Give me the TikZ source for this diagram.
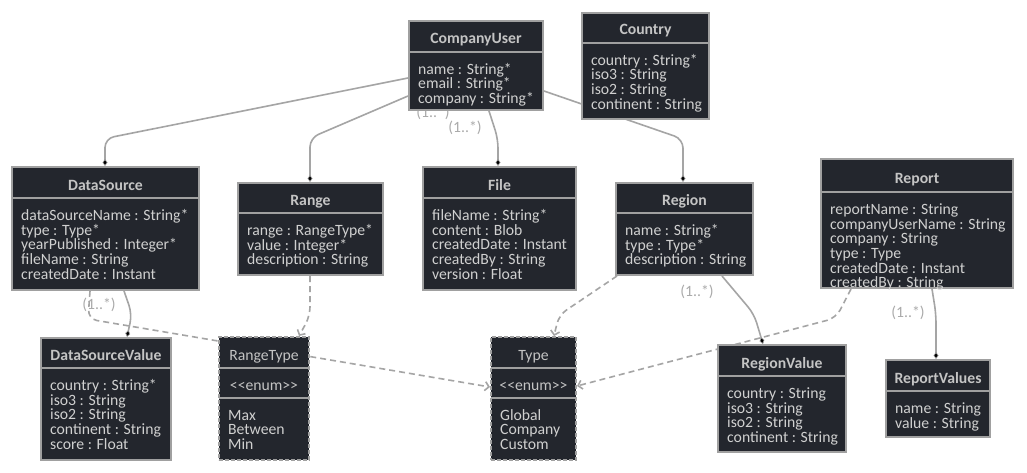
\documentclass[tikz,border=0pt]{standalone}
\usepackage{fontspec}
\setmainfont{Carlito}
\usetikzlibrary{arrows.meta,calc}
\pgfdeclarelayer{bottom}
\pgfdeclarelayer{wires}
\pgfsetlayers{bottom,wires,main}
\definecolor{boxfill}{RGB}{35,38,45}
\definecolor{boxline}{RGB}{160,160,160}
\definecolor{titlecol}{RGB}{196,196,196}
\definecolor{bodycol}{RGB}{208,208,208}
\definecolor{wirecol}{RGB}{165,165,165}
\definecolor{labelcol}{RGB}{170,170,170}
\newcommand\attr[1]{\hbox{#1}}
\newcommand\basefont{\fontsize{15.7}{14.7}\selectfont}
\newcommand\umlclass[8]{%
  \pgfmathsetmacro\cw{#4-#2}\pgfmathsetmacro\chh{#6-#3}%
  \pgfmathsetmacro\cx{(#2+#4)/2}\pgfmathsetmacro\cy{-(#3+#6)/2}%
  \node[classbox, minimum width=\cw pt, minimum height=\chh pt] (#1) at (\cx pt,\cy pt) {};
  \draw[divline] (#2pt,-#5pt) -- (#4pt,-#5pt);
  \node[titletext] at (\cx pt,{-(#5-8)*1pt}) {#7};
  \node[bodytext] at ({(#2+9)*1pt},{-(#5+22.3)*1pt}) {\vtop{\baselineskip=14.7pt\lineskiplimit=-100pt #8}};
}
\newcommand\umlenum[9]{%
  \pgfmathsetmacro\cw{#4-#2}\pgfmathsetmacro\chh{#7-#3}%
  \pgfmathsetmacro\cx{(#2+#4)/2}\pgfmathsetmacro\cy{-(#3+#7)/2}%
  \node[enumbox, minimum width=\cw pt, minimum height=\chh pt] (#1) at (\cx pt,\cy pt) {};
  \draw[divline] (#2pt,-#5pt) -- (#4pt,-#5pt);
  \draw[divline] (#2pt,-#6pt) -- (#4pt,-#6pt);
  \node[enumtitle] at (\cx pt,{-(#5-8)*1pt}) {#8};
  \node[enumtitle] at (\cx pt,{-(#6-7.5)*1pt}) {\mbox{<}\mbox{<}enum\mbox{>}\mbox{>}};
  \node[bodytext] at ({(#2+9)*1pt},{-(#6+22)*1pt}) {\vtop{\baselineskip=14.7pt\lineskiplimit=-100pt #9}};
}
\tikzset{
  classbox/.style={rectangle, draw=boxline, fill=boxfill, line width=2pt, inner sep=0pt},
  enumbox/.style={classbox, dash pattern=on 4pt off 2pt},
  divline/.style={draw=boxline, line width=2pt},
  titletext/.style={anchor=base, inner sep=0pt, text=titlecol, font=\basefont\bfseries},
  enumtitle/.style={anchor=base, inner sep=0pt, text=titlecol, font=\basefont},
  bodytext/.style={anchor=base west, inner sep=0pt, text=bodycol, font=\basefont},
  wire/.style={draw=wirecol, line width=1.6pt, rounded corners=9pt},
  comp/.style={wire, -{Diamond[length=7pt,width=5pt,fill=black,line width=0.6pt]}},
  dep/.style={wire, dash pattern=on 6pt off 4pt, -{Straight Barb[length=4pt,width=9pt,line width=1.6pt]}},
  mult/.style={inner sep=0pt, text=labelcol, font=\basefont},
}
\begin{document}
\begin{tikzpicture}[font=\basefont]
\useasboundingbox (0,0) rectangle (1027pt,-473pt);
\begin{pgfonlayer}{bottom}
\fill[white] (0,0) rectangle (1027pt,-473pt);
\end{pgfonlayer}

\umlclass{cu}{409}{21}{543}{52}{110}{CompanyUser}{\attr{name : String*}\attr{email : String*}\attr{company : String*}}
\umlclass{country}{582}{13}{709}{43}{119}{Country}{\attr{country : String*}\attr{iso3 : String}\attr{iso2 : String}\attr{continent : String}}
\umlclass{ds}{12}{167}{199}{198}{290}{DataSource}{\attr{dataSourceName : String*}\attr{type : Type*}\attr{yearPublished : Integer*}\attr{fileName : String}\attr{createdDate : Instant}}
\umlclass{range}{238}{183}{383}{213}{275}{Range}{\attr{range : RangeType*}\attr{value : Integer*}\attr{description : String}}
\umlclass{file}{423}{167}{576}{198}{290}{File}{\attr{fileName : String*}\attr{content : Blob}\attr{createdDate : Instant}\attr{createdBy : String}\attr{version : Float}}
\umlclass{region}{616}{183}{753}{213}{275}{Region}{\attr{name : String*}\attr{type : Type*}\attr{description : String}}
\umlclass{report}{821}{159}{1013}{192}{288}{Report}{\attr{reportName : String}\attr{companyUserName : String}\attr{company : String}\attr{type : Type}\attr{createdDate : Instant}\attr{createdBy : String}}
\umlclass{dsv}{41}{338}{171}{368}{460}{DataSourceValue}{\attr{country : String*}\attr{iso3 : String}\attr{iso2 : String}\attr{continent : String}\attr{score : Float}}
\umlenum{rangetype}{219}{337}{309}{368}{398}{460}{RangeType}{\attr{Max}\attr{Between}\attr{Min}}
\umlenum{type}{491}{337}{576}{368}{398}{460}{Type}{\attr{Global}\attr{Company}\attr{Custom}}
\umlclass{regionvalue}{718}{345}{846}{376}{452}{RegionValue}{\attr{country : String}\attr{iso3 : String}\attr{iso2 : String}\attr{continent : String}}
\umlclass{reportvalues}{886}{360}{990}{391}{437}{ReportValues}{\attr{name : String}\attr{value : String}}

\begin{pgfonlayer}{wires}
\node[mult] (m1) at (433pt,-112.5pt) {(1..*)};
\node[mult] (m2) at (465pt,-128pt) {(1..*)};
\node[mult] (m3) at (99pt,-305pt) {(1..*)};
\node[mult] (m4) at (697pt,-292pt) {(1..*)};
\node[mult] (m5) at (908pt,-313pt) {(1..*)};
\draw[comp] ($(cu.north west)+(0,-58pt)$) -- ($(ds.north west)+(94pt,27.5pt)$) -- ($(ds.north west)+(94pt,0)$);
\draw[comp] ($(cu.north west)+(0,-76pt)$) -- ($(range.north west)+(73pt,44pt)$) -- ($(range.north west)+(73pt,0)$);
\draw[comp] ($(cu.south west)+(81pt,0)$) -- ($(file.north west)+(76pt,27pt)$) -- ($(file.north west)+(76pt,0)$);
\draw[comp] ($(cu.south east)+(0,20pt)$) -- ($(region.north west)+(68pt,43pt)$) -- ($(region.north west)+(68pt,0)$);
\draw[comp] ($(ds.south west)+(113pt,0)$) -- ($(ds.south west)+(121pt,-23pt)$) -- ($(dsv.north west)+(87pt,0)$);
\draw[dep] ($(ds.south west)+(79pt,0)$) -- ($(ds.south west)+(77pt,-28pt)$) -- ($(type.north west)+(0,-51pt)$);
\draw[dep] ($(range.south west)+(73pt,0)$) -- ($(range.south west)+(73pt,-40pt)$) -- ($(rangetype.north west)+(81pt,0)$);
\draw[dep] ($(region.south west)+(2pt,0)$) -- ($(region.south west)+(-56pt,-39pt)$) -- ($(type.north west)+(64pt,0)$);
\draw[comp] ($(region.south west)+(107pt,0)$) -- ($(region.south west)+(139pt,-38pt)$) -- ($(regionvalue.north west)+(46pt,0)$);
\draw[dep] ($(report.south west)+(31pt,0)$) -- ($(report.south west)+(16pt,-29pt)$) -- ($(type.north east)+(0,-50pt)$);
\draw[comp] ($(report.south west)+(112pt,0)$) -- ($(report.south west)+(116pt,-25pt)$) -- ($(reportvalues.north west)+(51pt,0)$);
\end{pgfonlayer}
\end{tikzpicture}
\end{document}
